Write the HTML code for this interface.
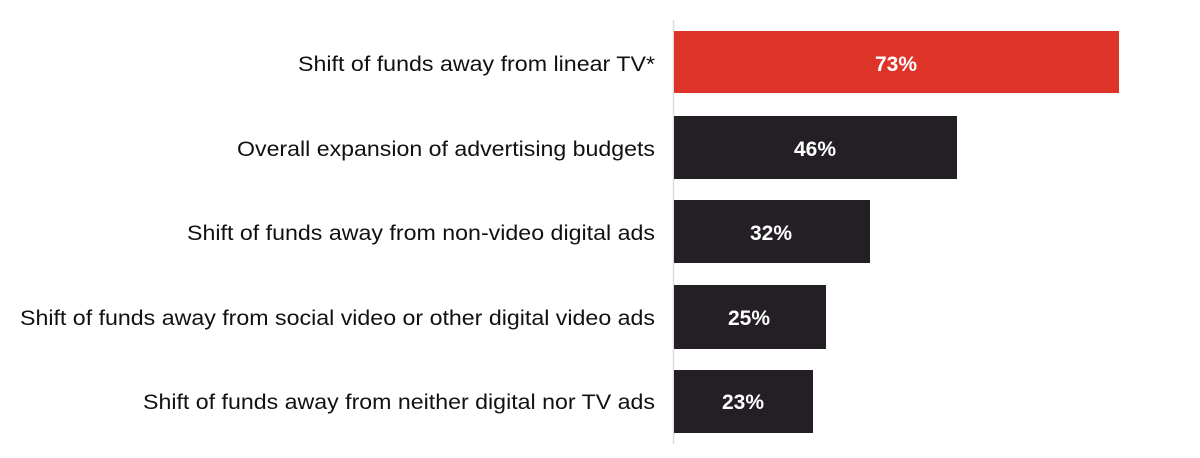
<!DOCTYPE html>
<html><head><meta charset="utf-8"><style>
html,body{margin:0;padding:0;background:#fff;}
svg{display:block;}
</style></head><body>
<svg width="1200" height="458" xmlns="http://www.w3.org/2000/svg" font-family="Liberation Sans, Arial, sans-serif">
<rect width="1200" height="458" fill="#fff"/>
<line x1="673.5" y1="20" x2="673.5" y2="444" stroke="#dcdcdc" stroke-width="1.5"/>
<rect x="674" y="31" width="445" height="62" fill="#dd3329"/>
<rect x="674" y="116" width="283" height="63" fill="#231f24"/>
<rect x="674" y="200" width="196" height="63" fill="#231f24"/>
<rect x="674" y="285" width="152" height="64" fill="#231f24"/>
<rect x="674" y="370" width="139" height="63" fill="#231f24"/>
<g font-size="21" font-weight="bold" fill="#fff" text-anchor="middle">
<text x="896" y="71">73%</text>
<text x="815" y="156">46%</text>
<text x="771" y="240">32%</text>
<text x="749" y="325">25%</text>
<text x="743" y="409">23%</text>
</g>
<g font-size="21.5" fill="#111">
<text x="298" y="71" textLength="357" lengthAdjust="spacingAndGlyphs">Shift of funds away from linear TV*</text>
<text x="237" y="156" textLength="418" lengthAdjust="spacingAndGlyphs">Overall expansion of advertising budgets</text>
<text x="187" y="240" textLength="468" lengthAdjust="spacingAndGlyphs">Shift of funds away from non-video digital ads</text>
<text x="20" y="325" textLength="635" lengthAdjust="spacingAndGlyphs">Shift of funds away from social video or other digital video ads</text>
<text x="143" y="409" textLength="512" lengthAdjust="spacingAndGlyphs">Shift of funds away from neither digital nor TV ads</text>
</g>
</svg>
</body></html>
